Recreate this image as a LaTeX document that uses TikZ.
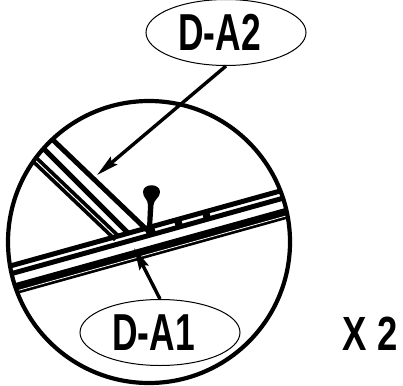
\documentclass[tikz,border=0pt]{standalone}
\usepackage{fontspec}
\setmainfont{Liberation Sans}
\usetikzlibrary{arrows.meta,shapes.geometric}
\newcommand{\partlabel}[1]{\scalebox{0.68}[1]{\fontsize{52}{52}\selectfont\bfseries #1}\kern13pt}
\tikzset{
  partbubble/.style={draw, ellipse, line width=1pt, inner sep=0pt, minimum width=160pt, minimum height=66pt},
  railline/.style={line width=5pt},
  pointer/.style={line width=3.4pt, -{Stealth[length=22pt, width=10pt, inset=3pt]}}
}
\begin{document}
\begin{tikzpicture}[x=1pt, y=-1pt]
  \useasboundingbox (0,0) rectangle (403,385);
  \begin{scope}
    \clip (149,242) circle (141pt);
    \draw[railline] (53,140) -- (147,230);
    \draw[railline] (43,148) -- (128,233);
    \draw[line width=8.5pt] (33,158) -- (117,238);
    \draw[white, line width=1pt] (33,158) -- (117,238);
    \draw[railline] (0,268.8) -- (300,185.5);
    \draw[railline] (0,276.8) -- (300,193.5);
    \draw[line width=4pt] (146,232.2) -- (155,229.7);
    \draw[line width=4pt] (175,224.2) -- (182,222.2);
    \draw[line width=4pt] (203,216.4) -- (210,214.5);
    \draw[line width=11pt] (0,293) -- (300,209.6);
    \draw[white, line width=0.8pt] (0,295.5) -- (300,212.1);
  \end{scope}
  \draw[line width=4.2pt] (149,242) circle (141pt);
  \fill (143,192) .. controls (143,183) and (160,183) .. (160,192)
    .. controls (160,198) and (154,199) .. (153.5,205) -- (152,228) -- (147,228) -- (148,205)
    .. controls (148,199) and (143,198) .. (143,192) -- cycle;
  \node[partbubble, fill=white] (dA1) at (160,332.5) {\partlabel{D-A1}};
  \node[partbubble, fill=white] (dA2) at (226,32.5) {\partlabel{D-A2}};
  \node (times) at (370,333.5) {\scalebox{0.76}[1]{\fontsize{48}{48}\selectfont\bfseries X 2}};
  \coordinate (tipA1) at (134,248);
  \coordinate (tipA2) at (97,175);
  \draw[pointer] (dA1.north) -- (tipA1);
  \draw[pointer] (dA2.south) -- (tipA2);
\end{tikzpicture}
\end{document}
